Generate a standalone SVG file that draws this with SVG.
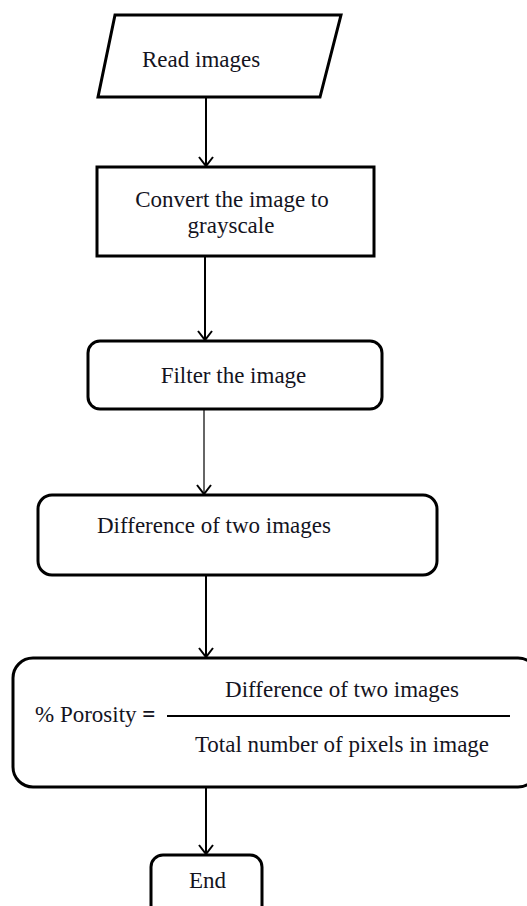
<svg xmlns="http://www.w3.org/2000/svg" width="527" height="906" viewBox="0 0 527 906">
<style>
.box{fill:#fff;stroke:#000;stroke-width:3}
.t{font-family:"Liberation Serif","Times New Roman",serif;font-size:23px;fill:#14141e}
.c{stroke:#000;stroke-width:2;fill:none}
</style>
<defs>
<marker id="ah" markerUnits="userSpaceOnUse" markerWidth="20" markerHeight="20" refX="12" refY="10" orient="auto" viewBox="0 0 20 20">
<polyline points="3,3 12,10 3,17" fill="none" stroke="#000" stroke-width="2"/>
</marker>
</defs>
<rect width="527" height="906" fill="#fff"/>
<g id="connectors">
<line class="c" x1="206" y1="97" x2="206" y2="166" marker-end="url(#ah)"/>
<line class="c" x1="205" y1="256" x2="205" y2="340" marker-end="url(#ah)"/>
<line x1="204" y1="409" x2="204" y2="494" style="stroke:#333;stroke-width:1.5" marker-end="url(#ah)"/>
<line class="c" x1="206" y1="575" x2="206" y2="657" marker-end="url(#ah)"/>
<line class="c" x1="206" y1="787" x2="206" y2="854" marker-end="url(#ah)"/>
</g>
<g id="read">
<polygon class="box" points="115,15 341,15 320,97 98,97"/>
<text class="t" x="142" y="67">Read images</text>
</g>
<g id="convert">
<rect class="box" x="97" y="167" width="277" height="89"/>
<text class="t" x="232" y="207" text-anchor="middle">Convert the image to</text>
<text class="t" x="231" y="233" text-anchor="middle">grayscale</text>
</g>
<g id="filter">
<rect class="box" x="88" y="341" width="294" height="68" rx="12"/>
<text class="t" x="233.5" y="383" text-anchor="middle">Filter the image</text>
</g>
<g id="difference">
<rect class="box" x="38" y="495" width="399" height="80" rx="14"/>
<text class="t" x="97" y="533">Difference of two images</text>
</g>
<g id="porosity">
<rect class="box" x="13" y="658" width="525" height="129" rx="20"/>
<text class="t" x="35" y="722">% Porosity <tspan font-weight="bold">=</tspan></text>
<line x1="167" y1="716" x2="510" y2="716" stroke="#000" stroke-width="2"/>
<text class="t" x="342" y="697" text-anchor="middle">Difference of two images</text>
<text class="t" x="342" y="752" text-anchor="middle">Total number of pixels in image</text>
</g>
<g id="end">
<rect class="box" x="151" y="855" width="111" height="70" rx="12"/>
<text class="t" x="207.5" y="888" text-anchor="middle">End</text>
</g>
</svg>
